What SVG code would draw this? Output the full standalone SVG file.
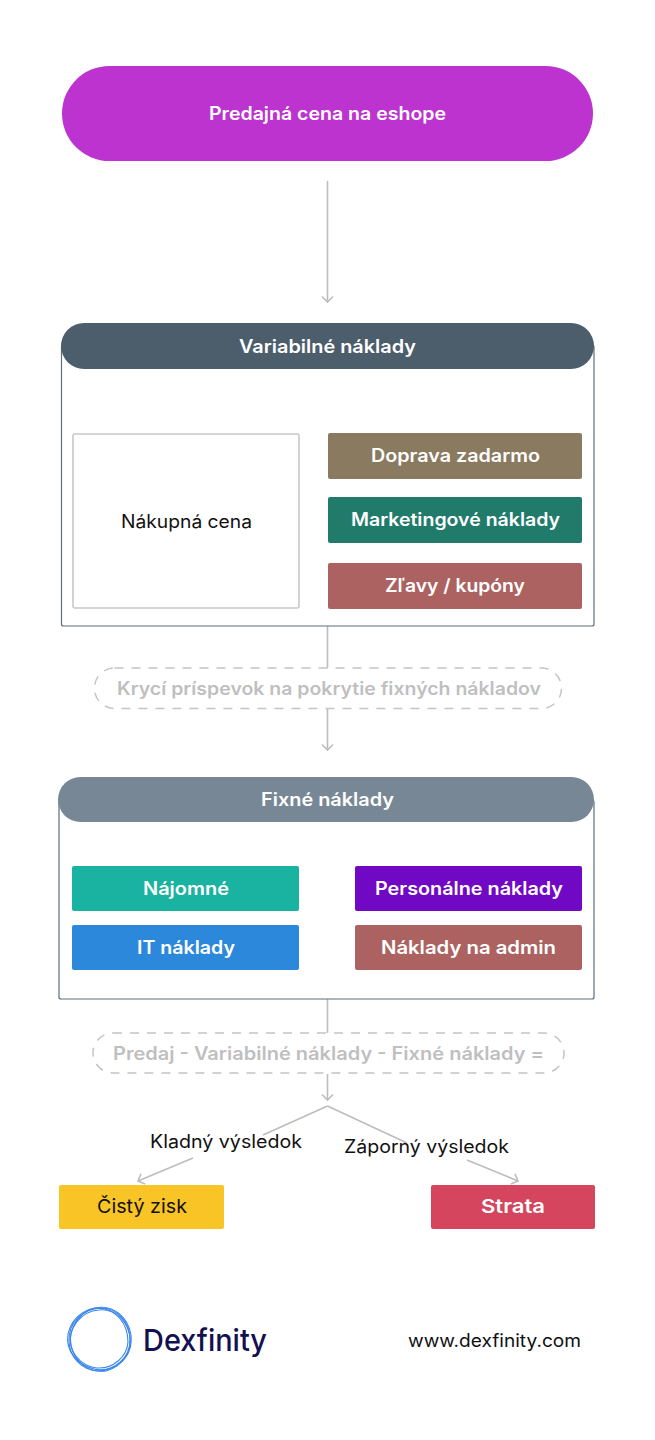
<svg xmlns="http://www.w3.org/2000/svg" width="655" height="1440" viewBox="0 0 655 1440">
<defs>
<style>
text{font-family:"Inter","Noto Sans","Liberation Sans",sans-serif;text-anchor:middle;dominant-baseline:auto}
.w{fill:#fff;font-weight:600;font-size:18px}
.k{fill:#111;font-weight:500;font-size:18px}
.g{fill:#bfbfbf;font-weight:600;font-size:18px}
.c{fill:none;stroke:#bdbdbd;stroke-width:1.6}
.d{fill:#fff;stroke:#c4c4c4;stroke-width:1.5;stroke-dasharray:9 8}
.f{fill:#fff;stroke:#5e6e7b;stroke-width:1.2}
</style>
<marker id="a" markerWidth="14" markerHeight="14" refX="11" refY="6" orient="auto" markerUnits="userSpaceOnUse"><path d="M5.500 .5L11 6L5.500 11.500" fill="none" stroke="#bdbdbd" stroke-width="1.6"/></marker>
</defs>
<rect width="655" height="1440" fill="#fff"/>
<g id="connectors">
<path class="c" marker-end="url(#a)" d="M327.500 181V302"/>
<path class="c" d="M327.500 626V668"/>
<path class="c" marker-end="url(#a)" d="M327.500 709V750"/>
<path class="c" d="M327.500 999V1033"/>
<path class="c" marker-end="url(#a)" d="M327.500 1074V1100"/>
<path class="c" d="M327.500 1106L263 1135M327.500 1106L407 1143"/>
<path class="c" marker-end="url(#a)" d="M193 1158L138 1181"/>
<path class="c" marker-end="url(#a)" d="M467 1160L518 1181"/>
</g>
<g id="start"><rect x="62" y="66" width="531" height="95" rx="47.500" fill="#bc33d0"/><text class="w" x="327.500" y="120" textLength="237" lengthAdjust="spacingAndGlyphs">Predajná cena na eshope</text></g>
<g id="variabilne">
<rect class="f" x="61.500" y="345" width="532.500" height="281" rx="2"/>
<rect x="61" y="323" width="533" height="46" rx="23" fill="#4c5d6b"/>
<text class="w" x="327.500" y="353" textLength="177" lengthAdjust="spacingAndGlyphs">Variabilné náklady</text>
</g>
<g id="nakupna"><rect x="73" y="434" width="226" height="174" rx="2" fill="#fff" stroke="#c8c8c8" stroke-width="1.600"/><text class="k" x="186.500" y="528" textLength="131" lengthAdjust="spacingAndGlyphs" style="font-weight:400">Nákupná cena</text></g>
<g id="doprava"><rect x="328" y="433" width="254" height="46" rx="2" fill="#8a7a5f"/><text class="w" x="455.500" y="462" textLength="169" lengthAdjust="spacingAndGlyphs">Doprava zadarmo</text></g>
<g id="marketing"><rect x="328" y="497" width="254" height="46" rx="2" fill="#207b6b"/><text class="w" x="455.500" y="526" textLength="209" lengthAdjust="spacingAndGlyphs">Marketingové náklady</text></g>
<g id="zlavy"><rect x="328" y="563" width="254" height="46" rx="2" fill="#ad6262"/><text class="w" x="455" y="592" textLength="140" lengthAdjust="spacingAndGlyphs">Zľavy / kupóny</text></g>
<g id="kryci"><rect class="d" x="94.500" y="668" width="467" height="40.500" rx="20"/><text class="g" x="329" y="695" textLength="424" lengthAdjust="spacingAndGlyphs">Krycí príspevok na pokrytie fixných nákladov</text></g>
<g id="fixne">
<rect class="f" x="59" y="800" width="535" height="199" rx="2"/>
<rect x="58" y="777" width="536" height="45" rx="22.500" fill="#778796"/>
<text class="w" x="327.500" y="806" textLength="133" lengthAdjust="spacingAndGlyphs">Fixné náklady</text>
</g>
<g id="najomne"><rect x="72" y="866" width="227" height="45" rx="2" fill="#1ab2a0"/><text class="w" x="186" y="895" textLength="86" lengthAdjust="spacingAndGlyphs">Nájomné</text></g>
<g id="personalne"><rect x="355" y="866" width="227" height="45" rx="2" fill="#7109c4"/><text class="w" x="469" y="895" textLength="188" lengthAdjust="spacingAndGlyphs">Personálne náklady</text></g>
<g id="it"><rect x="72" y="925" width="227" height="45" rx="2" fill="#2b88da"/><text class="w" x="186" y="954" textLength="98" lengthAdjust="spacingAndGlyphs">IT náklady</text></g>
<g id="admin"><rect x="355" y="925" width="227" height="45" rx="2" fill="#ad6262"/><text class="w" x="468.500" y="954" textLength="175" lengthAdjust="spacingAndGlyphs">Náklady na admin</text></g>
<g id="vzorec"><rect class="d" x="93" y="1033" width="471" height="40" rx="20"/><text class="g" x="328.500" y="1060" textLength="431" lengthAdjust="spacingAndGlyphs">Predaj - Variabilné náklady - Fixné náklady =</text></g>
<g id="labels">
<text class="k" x="226" y="1148" textLength="152" lengthAdjust="spacingAndGlyphs" style="font-weight:400">Kladný výsledok</text>
<text class="k" x="426.500" y="1153" textLength="165" lengthAdjust="spacingAndGlyphs" style="font-weight:400">Záporný výsledok</text>
</g>
<g id="zisk"><rect x="59" y="1185" width="165" height="44" rx="2" fill="#f9c425"/><text class="k" x="142" y="1213" textLength="90" lengthAdjust="spacingAndGlyphs" style="font-weight:400;font-size:19px">Čistý zisk</text></g>
<g id="strata"><rect x="431" y="1185" width="164" height="44" rx="2" fill="#d5455d"/><text class="w" x="513" y="1213" textLength="64" lengthAdjust="spacingAndGlyphs" style="font-size:19px">Strata</text></g>
<g id="logo" fill="none" stroke="#3a86ea" stroke-width="1.100">
<path d="M69 1342C68 1322 83 1309 101 1308C118 1308 130 1323 130 1340C130 1358 115 1371 98 1371C82 1370 70 1358 69 1342Z"/>
<path d="M68 1334C72 1316 89 1305 105 1309C122 1313 132 1329 130 1346C127 1361 110 1373 94 1369C78 1365 65 1351 68 1334Z"/>
<path d="M73 1352C65 1333 77 1313 95 1308C113 1304 128 1317 131 1335C133 1352 123 1366 106 1371C91 1373 79 1365 73 1352Z"/>
<path d="M71 1346C67 1329 81 1311 99 1310C116 1308 128 1324 128 1342C127 1357 113 1369 97 1368C85 1367 74 1358 71 1346Z"/>
<text x="205" y="1351" textLength="124" lengthAdjust="spacingAndGlyphs" stroke="none" fill="#12104f" style="font-size:30px;font-weight:500">Dexfinity</text>
</g>
<g id="url"><text class="k" x="494.500" y="1347" textLength="173" lengthAdjust="spacingAndGlyphs" style="font-weight:400">www.dexfinity.com</text></g>
</svg>
